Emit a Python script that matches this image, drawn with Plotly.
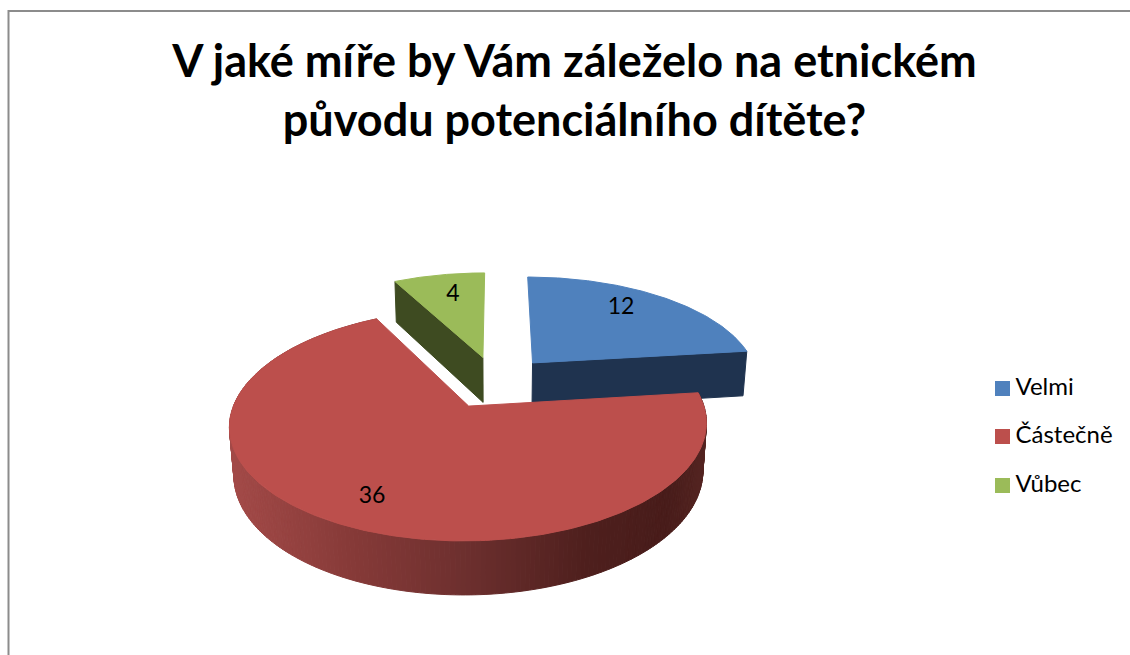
import math
import plotly.graph_objects as go

# Survey answers
categories = ["Velmi", "Částečně", "Vůbec"]
values = [12, 36, 4]
title_text = "V jaké míře by Vám záleželo na etnickém<br>původu potenciálního dítěte?"

top_colors = ["#4f81bd", "#bc4f4c", "#9bbb59"]
wall_colors = ["#1f334f", None, "#3e4b21"]

# Perspective model of the exploded pie, in screen pixels
CX, CY = 496.0, 382.0
RX, RY = 227.0, 105.0
PERSP, DEPTH, DEPTH_PERSP = 0.158, 47.0, 0.016
EXPLODE = 0.25


def project(px, py, pz=0.0):
    w = 1 + PERSP * py + DEPTH_PERSP * pz
    return CX + RX * px / w, CY + (-RY * py + DEPTH * pz) / w


def polar(a):
    return math.sin(a), math.cos(a)


def polygon(points, color, line=True):
    xs, ys = zip(*points)
    return go.Scatter(
        x=list(xs) + [xs[0]], y=list(ys) + [ys[0]], mode="lines", fill="toself",
        fillcolor=color, line=dict(color=color, width=1 if line else 0),
        hoverinfo="skip", showlegend=False,
    )


def mix(stops, t):
    for (t0, c0), (t1, c1) in zip(stops, stops[1:]):
        if t <= t1:
            f = (t - t0) / (t1 - t0)
            return "rgb(%d,%d,%d)" % tuple(round(a + (b - a) * f) for a, b in zip(c0, c1))
    return "rgb(%d,%d,%d)" % stops[-1][1]


# Shade of the red outer wall, running left to right across the screen
WALL_STOPS = [(0.0, (163, 74, 72)), (0.25, (135, 58, 56)), (0.5, (108, 47, 46)),
              (0.75, (78, 31, 29)), (0.92, (72, 28, 26)), (1.0, (84, 36, 33))]

total = sum(values)
spans = []
start = 0.0
for v in values:
    end = start + 2 * math.pi * v / total
    spans.append((start, end))
    start = end

apexes = []
for a0, a1 in spans:
    ex, ey = polar((a0 + a1) / 2)
    apexes.append((EXPLODE * ex, EXPLODE * ey))


def rim(i, n=120):
    a0, a1 = spans[i]
    ax, ay = apexes[i]
    return [(ax + math.sin(a0 + (a1 - a0) * k / n), ay + math.cos(a0 + (a1 - a0) * k / n)) for k in range(n + 1)]


fig = go.Figure()

# Far slices first: green, then blue, then the large red slice on top
g_rim = rim(2)
g_ax, g_ay = apexes[2]
fig.add_trace(polygon([project(g_ax, g_ay), project(*g_rim[0]),
                       project(*g_rim[0], 1), project(g_ax, g_ay, 1)], wall_colors[2]))
fig.add_trace(polygon([project(g_ax, g_ay)] + [project(*p) for p in g_rim], top_colors[2]))

b_rim = rim(0)
b_ax, b_ay = apexes[0]
fig.add_trace(polygon([project(b_ax, b_ay), project(*b_rim[-1]),
                       project(*b_rim[-1], 1), project(b_ax, b_ay, 1)], wall_colors[0]))
fig.add_trace(polygon([project(b_ax, b_ay)] + [project(*p) for p in b_rim], top_colors[0]))

r_rim = rim(1, 240)
r_ax, r_ay = apexes[1]
xs_all = [project(*p)[0] for p in r_rim]
xmin, xmax = min(xs_all), max(xs_all)
for p, q in zip(r_rim, r_rim[1:]):
    mid = project((p[0] + q[0]) / 2, (p[1] + q[1]) / 2)[0]
    shade = mix(WALL_STOPS, (mid - xmin) / (xmax - xmin))
    fig.add_trace(polygon([project(*p), project(*q), project(*q, 1), project(*p, 1)], shade))
fig.add_trace(polygon([project(r_ax, r_ay)] + [project(*p) for p in r_rim], top_colors[1]))

# Value labels on the slices
LABEL_POS = [(621, 308), (372, 497), (453, 295)]
fig.add_trace(go.Scatter(
    x=[p[0] for p in LABEL_POS], y=[p[1] for p in LABEL_POS], mode="text",
    text=[str(v) for v in values], textposition="middle center",
    textfont=dict(family="Lato", size=23, color="#000000"),
    hoverinfo="skip", showlegend=False,
))

# Legend column at the right of the chart
LEGEND_ROWS = [388.5, 436.5, 485.5]
fig.add_trace(go.Scatter(
    x=[1002.5] * 3, y=LEGEND_ROWS, mode="markers",
    marker=dict(symbol="square", size=15, color=top_colors, line=dict(width=0)),
    hoverinfo="skip", showlegend=False,
))
fig.add_trace(go.Scatter(
    x=[1015.5] * 3, y=LEGEND_ROWS, mode="text", text=categories, textposition="middle right",
    textfont=dict(family="Lato", size=24, color="#000000"),
    hoverinfo="skip", showlegend=False,
))

fig.update_layout(
    width=1130, height=655, margin=dict(l=0, r=0, t=0, b=0),
    paper_bgcolor="#ffffff", plot_bgcolor="#ffffff", showlegend=False,
    xaxis=dict(range=[0, 1130], visible=False, fixedrange=True),
    yaxis=dict(range=[655, 0], visible=False, fixedrange=True),
    shapes=[dict(type="path", path="M 1130 11 L 8.5 11 L 8.5 655", xref="x", yref="y",
                 line=dict(color="#8c8c8c", width=2))],
    title=dict(text=title_text, x=574.5 / 1130, xanchor="center", y=1 - 77 / 655, yanchor="middle",
               font=dict(family="Lato", size=45, color="#000000", weight="bold")),
)

fig.write_html("out.html", config=dict(displayModeBar=False))
